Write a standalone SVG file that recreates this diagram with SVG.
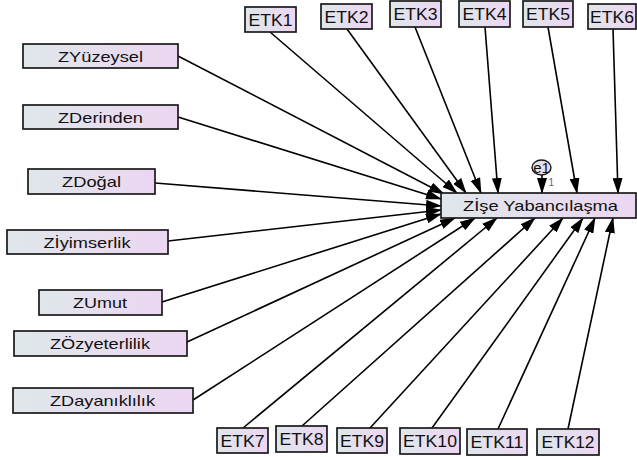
<svg xmlns="http://www.w3.org/2000/svg" width="637" height="457" viewBox="0 0 637 457">
<defs>
<linearGradient id="g" x1="0" y1="0" x2="1" y2="0">
<stop offset="0" stop-color="#dfe7ea"/>
<stop offset="1" stop-color="#ecd6f2"/>
</linearGradient>
<marker id="ah" markerUnits="userSpaceOnUse" markerWidth="16" markerHeight="10" refX="15" refY="5" orient="auto">
<path d="M0,0 L16,5 L0,10 Z" fill="#000"/>
</marker>
</defs>
<style>
.b{fill:url(#g);stroke:#1a1a1a;stroke-width:1.7}
.t{font-family:"Liberation Sans",Arial,sans-serif;font-size:15px;fill:#111;text-anchor:middle}
.e{font-family:"Liberation Sans",Arial,sans-serif;font-size:16px;fill:#111;text-anchor:middle}
.c line{stroke:#000;stroke-width:1.6;marker-end:url(#ah)}
</style>
<g class="c" id="connectors">
<line x1="178" y1="56" x2="444" y2="194"/>
<line x1="178" y1="117" x2="441" y2="199"/>
<line x1="155" y1="183" x2="441" y2="206"/>
<line x1="168" y1="241" x2="441" y2="210"/>
<line x1="162" y1="302" x2="441" y2="214"/>
<line x1="187" y1="342" x2="455" y2="218"/>
<line x1="193" y1="400" x2="475" y2="218"/>
<line x1="270" y1="32" x2="457" y2="193"/>
<line x1="347" y1="29" x2="466" y2="193"/>
<line x1="415" y1="27" x2="481" y2="193"/>
<line x1="485" y1="27" x2="498" y2="193"/>
<line x1="548" y1="27" x2="577" y2="193"/>
<line x1="613" y1="29" x2="618" y2="193"/>
<line x1="243" y1="428" x2="497" y2="218"/>
<line x1="302" y1="426" x2="535" y2="218"/>
<line x1="370" y1="428" x2="563" y2="218"/>
<line x1="432" y1="428" x2="583" y2="218"/>
<line x1="498" y1="429" x2="595" y2="218"/>
<line x1="568" y1="429" x2="613" y2="218"/>
<line x1="542" y1="175" x2="542" y2="193"/>
</g>
<g id="ZYuzeysel"><rect class="b" x="23" y="44" width="155" height="24"/><text class="t" x="100.5" y="62" textLength="85" lengthAdjust="spacingAndGlyphs">ZYüzeysel</text></g>
<g id="ZDerinden"><rect class="b" x="23" y="105" width="155" height="24"/><text class="t" x="100.5" y="123" textLength="85" lengthAdjust="spacingAndGlyphs">ZDerinden</text></g>
<g id="ZDogal"><rect class="b" x="28" y="169" width="127" height="25"/><text class="t" x="91.5" y="187" textLength="59" lengthAdjust="spacingAndGlyphs">ZDoğal</text></g>
<g id="ZIyimserlik"><rect class="b" x="7" y="230" width="161" height="24"/><text class="t" x="87" y="248" textLength="87" lengthAdjust="spacingAndGlyphs">Zİyimserlik</text></g>
<g id="ZUmut"><rect class="b" x="39" y="290" width="123" height="25"/><text class="t" x="100" y="308" textLength="54" lengthAdjust="spacingAndGlyphs">ZUmut</text></g>
<g id="ZOzyeterlilik"><rect class="b" x="14" y="331" width="173" height="25"/><text class="t" x="100" y="349" textLength="100" lengthAdjust="spacingAndGlyphs">ZÖzyeterlilik</text></g>
<g id="ZDayaniklilik"><rect class="b" x="13" y="388" width="180" height="25"/><text class="t" x="102.5" y="406" textLength="105" lengthAdjust="spacingAndGlyphs">ZDayanıklılık</text></g>
<g id="ETK1"><rect class="b" x="245" y="7" width="51" height="25"/><text class="e" x="270.5" y="25.5" textLength="44" lengthAdjust="spacingAndGlyphs">ETK1</text></g>
<g id="ETK2"><rect class="b" x="321" y="4" width="51" height="25"/><text class="e" x="346.5" y="22.5" textLength="44" lengthAdjust="spacingAndGlyphs">ETK2</text></g>
<g id="ETK3"><rect class="b" x="390" y="1" width="51" height="26"/><text class="e" x="415.5" y="20" textLength="44" lengthAdjust="spacingAndGlyphs">ETK3</text></g>
<g id="ETK4"><rect class="b" x="459" y="1" width="51" height="26"/><text class="e" x="484.5" y="20" textLength="44" lengthAdjust="spacingAndGlyphs">ETK4</text></g>
<g id="ETK5"><rect class="b" x="523" y="1" width="50" height="26"/><text class="e" x="548" y="20" textLength="44" lengthAdjust="spacingAndGlyphs">ETK5</text></g>
<g id="ETK6"><rect class="b" x="588" y="4" width="48" height="25"/><text class="e" x="612" y="22.5" textLength="44" lengthAdjust="spacingAndGlyphs">ETK6</text></g>
<g id="ETK7"><rect class="b" x="217" y="428" width="51" height="25"/><text class="e" x="242.5" y="446.5" textLength="44" lengthAdjust="spacingAndGlyphs">ETK7</text></g>
<g id="ETK8"><rect class="b" x="276" y="426" width="51" height="26"/><text class="e" x="301.5" y="444.5" textLength="44" lengthAdjust="spacingAndGlyphs">ETK8</text></g>
<g id="ETK9"><rect class="b" x="337" y="428" width="50" height="25"/><text class="e" x="362" y="446.5" textLength="44" lengthAdjust="spacingAndGlyphs">ETK9</text></g>
<g id="ETK10"><rect class="b" x="400" y="428" width="60" height="26"/><text class="e" x="430" y="447" textLength="54" lengthAdjust="spacingAndGlyphs">ETK10</text></g>
<g id="ETK11"><rect class="b" x="467" y="429" width="60" height="26"/><text class="e" x="497" y="448" textLength="53" lengthAdjust="spacingAndGlyphs">ETK11</text></g>
<g id="ETK12"><rect class="b" x="537" y="429" width="62" height="26"/><text class="e" x="568" y="448" textLength="53" lengthAdjust="spacingAndGlyphs">ETK12</text></g>
<g id="ZIseYabancilasma"><rect class="b" x="441" y="193" width="195" height="25"/><text class="t" x="540.5" y="211" textLength="155" lengthAdjust="spacingAndGlyphs">Zİşe Yabancılaşma</text></g>
<g id="e1"><ellipse cx="541.5" cy="167.5" rx="9.5" ry="7.5" fill="url(#g)" stroke="#1a1a1a" stroke-width="1.4"/><text class="t" x="541.5" y="173" style="font-size:15px">e1</text><text x="548.5" y="186" style="font-family:'Liberation Sans',Arial,sans-serif;font-size:10px;fill:#666">1</text></g>
</svg>
